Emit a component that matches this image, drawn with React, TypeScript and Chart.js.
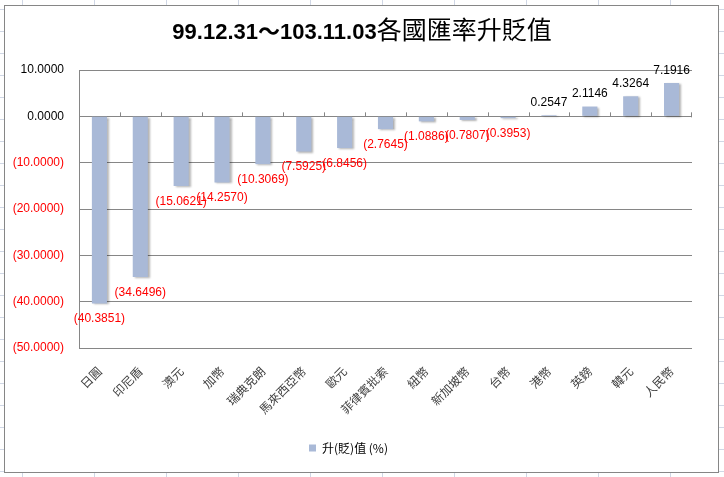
import React, { useEffect, useRef } from "react";
import { Chart, registerables } from "chart.js";

Chart.register(...registerables);

// ---- data ----
const categories = [
  "日圓", "印尼盾", "澳元", "加幣", "瑞典克朗", "馬來西亞幣", "歐元",
  "菲律賓批索", "紐幣", "新加坡幣", "台幣", "港幣", "英鎊", "韓元", "人民幣",
];
const values = [
  -40.3851, -34.6496, -15.0621, -14.257, -10.3069, -7.5925, -6.8456,
  -2.7645, -1.0886, -0.7807, -0.3953, 0.2547, 2.1146, 4.3264, 7.1916,
];
const yTicks = [10, 0, -10, -20, -30, -40, -50];
const seriesLabel = "升(貶)值 (%)";
const titleLatin = "99.12.31～103.11.03";
const titleCjk = "各國匯率升貶值";

const LATIN = '"Liberation Sans", "Noto Sans CJK TC", sans-serif';
const CJK = '"Noto Sans CJK TC", "Liberation Sans", sans-serif';
const BAR = "#A9B9D7";
const GRID = "#868686";

const fmt = (v: number) =>
  v < 0 ? `(${Math.abs(v).toFixed(4)})` : v.toFixed(4);

const decor = {
  id: "decor",
  beforeDatasetsDraw(chart: any) {
    const { ctx, scales, chartArea } = chart;
    const x = scales.x;
    const y0 = scales.y.getPixelForValue(0);
    ctx.save();
    ctx.strokeStyle = GRID;
    ctx.lineWidth = 1;
    ctx.beginPath();
    const n = categories.length;
    for (let i = 1; i < n; i++) {
      const px = Math.round((x.getPixelForTick(i - 1) + x.getPixelForTick(i)) / 2) + 0.5;
      ctx.moveTo(px, y0 - 4);
      ctx.lineTo(px, y0);
    }
    const pr = Math.round(chartArea.right) - 0.5;
    ctx.moveTo(pr, y0 - 4);
    ctx.lineTo(pr, y0 + 1);
    ctx.stroke();
    ctx.restore();

    ctx.save();
    ctx.shadowColor = "rgba(0,0,0,0.3)";
    ctx.shadowOffsetX = 2;
    ctx.shadowOffsetY = 1;
    ctx.shadowBlur = 2;
  },
  afterDatasetsDraw(chart: any) {
    const { ctx } = chart;
    ctx.restore();
    const meta = chart.getDatasetMeta(0);
    ctx.save();
    ctx.font = `12px ${LATIN}`;
    ctx.textAlign = "center";
    ctx.textBaseline = "middle";
    meta.data.forEach((el: any, i: number) => {
      const v = values[i];
      if (v < 0) {
        ctx.fillStyle = "#FF0000";
        ctx.fillText(fmt(v), el.x, el.y + 15.5);
      } else {
        ctx.fillStyle = "#000000";
        ctx.fillText(fmt(v), el.x, el.y - 12.5);
      }
    });
    ctx.restore();
  },
  afterDraw(chart: any) {
    const { ctx } = chart;
    ctx.save();
    const fA = `bold 22px ${LATIN}`;
    const fB = `25px ${CJK}`;
    ctx.font = fA;
    const wA = ctx.measureText(titleLatin).width;
    ctx.font = fB;
    const wB = ctx.measureText(titleCjk).width;
    const cx = chart.width / 2 + 0.5;
    const start = cx - (wA + wB) / 2;
    const base = 33;
    ctx.textAlign = "left";
    ctx.textBaseline = "alphabetic";
    ctx.fillStyle = "#000";
    ctx.font = fA;
    ctx.fillText(titleLatin, start, base);
    ctx.font = fB;
    ctx.fillText(titleCjk, start + wA, base);
    ctx.restore();
  },
};

export default function App() {
  const ref = useRef<HTMLCanvasElement | null>(null);

  useEffect(() => {
    if (!ref.current) return;
    const chart = new Chart(ref.current, {
      type: "bar",
      data: {
        labels: categories,
        datasets: [
          {
            label: seriesLabel,
            data: values,
            backgroundColor: BAR,
            borderWidth: 0,
            barPercentage: 0.37,
            categoryPercentage: 1,
          },
        ],
      },
      plugins: [decor],
      options: {
        animation: false,
        responsive: false,
        devicePixelRatio: 1,
        layout: { padding: { left: 0, right: 26, top: 64, bottom: 8 } },
        plugins: {
          title: { display: false },
          tooltip: { enabled: false },
          legend: {
            display: true,
            position: "bottom",
            labels: {
              boxWidth: 7,
              boxHeight: 7,
              padding: 10,
              color: "#000",
              font: { size: 12, family: CJK },
            },
          },
        },
        scales: {
          x: {
            grid: { display: false },
            border: { display: false },
            ticks: {
              autoSkip: false,
              maxRotation: 45,
              minRotation: 45,
              padding: 8,
              color: "#404040",
              font: { size: 12, family: CJK },
            },
            afterFit: (s: any) => {
              s.height = 84;
            },
          },
          y: {
            min: Math.min(...yTicks),
            max: Math.max(...yTicks),
            grid: { color: GRID, lineWidth: 1, drawTicks: false },
            border: { display: true, color: GRID, width: 1 },
            ticks: {
              stepSize: yTicks[0] - yTicks[1],
              padding: 15,
              font: { size: 12, family: LATIN },
              color: (c: any) => (c.tick && c.tick.value < 0 ? "#FF0000" : "#000000"),
              callback: (v: any) => fmt(Number(v)),
            },
            afterFit: (s: any) => {
              s.width = 74;
            },
          },
        },
      },
    });
    return () => chart.destroy();
  }, []);

  return (
    <div
      style={{
        position: "fixed",
        left: 0,
        top: 0,
        width: 724,
        height: 477,
        overflow: "hidden",
        background: "#fff",
        backgroundImage:
          "linear-gradient(to right, #d0d7e5 1px, transparent 1px), linear-gradient(to bottom, #d0d7e5 1px, transparent 1px)",
        backgroundSize: "72px 22px",
        backgroundPosition: "22px 9px",
      }}
    >
      <div
        style={{
          position: "absolute",
          left: 4,
          top: 5,
          width: 715,
          height: 468,
          boxSizing: "border-box",
          border: `1px solid ${GRID}`,
          background: "#fff",
        }}
      >
        <canvas ref={ref} width={713} height={466} style={{ display: "block" }} />
      </div>
    </div>
  );
}
